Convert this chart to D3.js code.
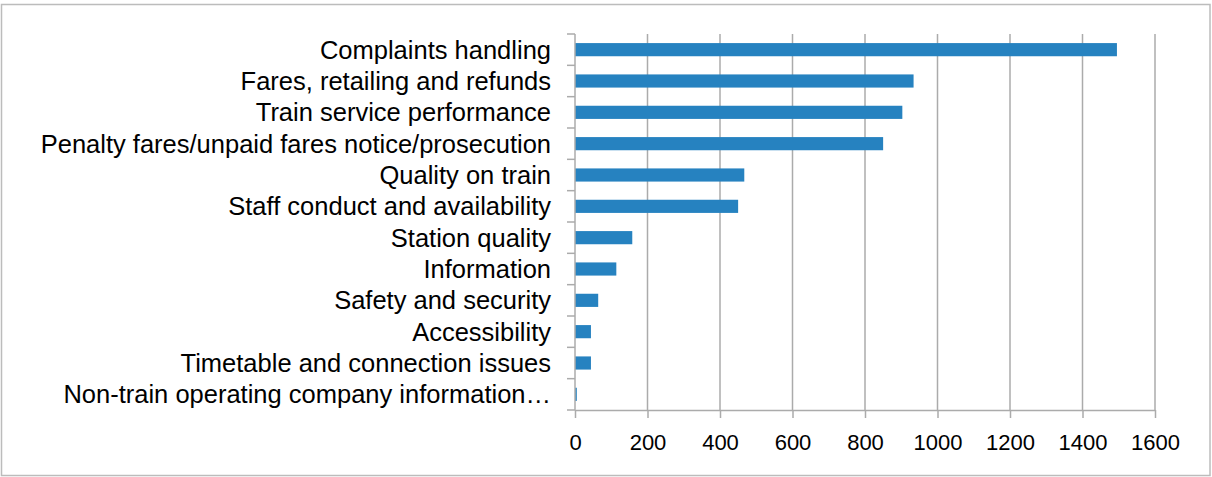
<!DOCTYPE html>
<html>
<head>
<meta charset="utf-8">
<script src="https://cdn.jsdelivr.net/npm/d3@7"></script>
<style>
  body { margin: 0; background: #fff; }
  svg { display: block; font-family: "Liberation Sans", Arial, sans-serif; }
</style>
</head>
<body>
<script>
const categories = [
  "Complaints handling",
  "Fares, retailing and refunds",
  "Train service performance",
  "Penalty fares/unpaid fares notice/prosecution",
  "Quality on train",
  "Staff conduct and availability",
  "Station quality",
  "Information",
  "Safety and security",
  "Accessibility",
  "Timetable and connection issues",
  "Non-train operating company information\u2026"
]
const values = [1495, 934, 903, 850, 467, 450, 158, 114, 64, 44, 44, 5]
const xTicks = [0, 200, 400, 600, 800, 1000, 1200, 1400, 1600]

const width = 1212
const height = 477
const plot = { left: 575, right: 1155, top: 34, bottom: 410 }

const svg = d3.select("body").append("svg")
  .attr("width", width)
  .attr("height", height)

// outer chart border
svg.append("rect")
  .attr("x", 1.5).attr("y", 4.5)
  .attr("width", 1208.5).attr("height", 471)
  .attr("fill", "#fff")
  .attr("stroke", "#bcbcbc")
  .attr("stroke-width", 1.5)

const x = d3.scaleLinear().domain([0, 1600]).range([plot.left, plot.right])
const y = d3.scaleBand()
  .domain(categories)
  .range([plot.top, plot.bottom])
  .paddingInner(0.58)
  .paddingOuter(0.29)

// vertical gridlines
svg.append("g")
  .selectAll("line")
  .data(xTicks.slice(1))
  .enter().append("line")
  .attr("x1", d => x(d)).attr("x2", d => x(d))
  .attr("y1", plot.top).attr("y2", plot.bottom)
  .attr("stroke", "#ababab")
  .attr("stroke-width", 1.5)

// bars
svg.append("g")
  .selectAll("rect")
  .data(values)
  .enter().append("rect")
  .attr("x", x(0))
  .attr("y", (d, i) => y(categories[i]))
  .attr("width", d => x(d) - x(0))
  .attr("height", y.bandwidth())
  .attr("fill", "#2682c0")

// x axis
const xAxis = svg.append("g")
  .attr("transform", `translate(0,${plot.bottom})`)
  .call(d3.axisBottom(x).tickValues(xTicks).tickFormat(d3.format("d"))
    .tickSize(8).tickPadding(16).tickSizeOuter(0))
xAxis.select(".domain").attr("stroke", "#ababab").attr("stroke-width", 1.5)
xAxis.selectAll(".tick line").attr("stroke", "#ababab").attr("stroke-width", 1.5)
xAxis.selectAll(".tick text")
  .attr("font-size", "22px")
  .attr("fill", "#000")
  .attr("font-family", "\"Liberation Sans\", Arial, sans-serif")

// y axis: category boundary ticks
const yAxis = svg.append("g")
svg.append("line")
  .attr("x1", plot.left).attr("x2", plot.left)
  .attr("y1", plot.top).attr("y2", plot.bottom)
  .attr("stroke", "#ababab").attr("stroke-width", 1.5)
yAxis.selectAll("line")
  .data(categories.concat([null]))
  .enter().append("line")
  .attr("x1", plot.left - 8).attr("x2", plot.left)
  .attr("y1", (d, i) => plot.top + i * y.step())
  .attr("y2", (d, i) => plot.top + i * y.step())
  .attr("stroke", "#ababab").attr("stroke-width", 1.5)

yAxis.selectAll("text")
  .data(categories)
  .enter().append("text")
  .attr("x", plot.left - 24)
  .attr("y", d => y(d) + y.bandwidth() / 2)
  .attr("dy", "0.35em")
  .attr("text-anchor", "end")
  .attr("font-size", "25.5px")
  .attr("fill", "#000")
  .text(d => d)
</script>
</body>
</html>
